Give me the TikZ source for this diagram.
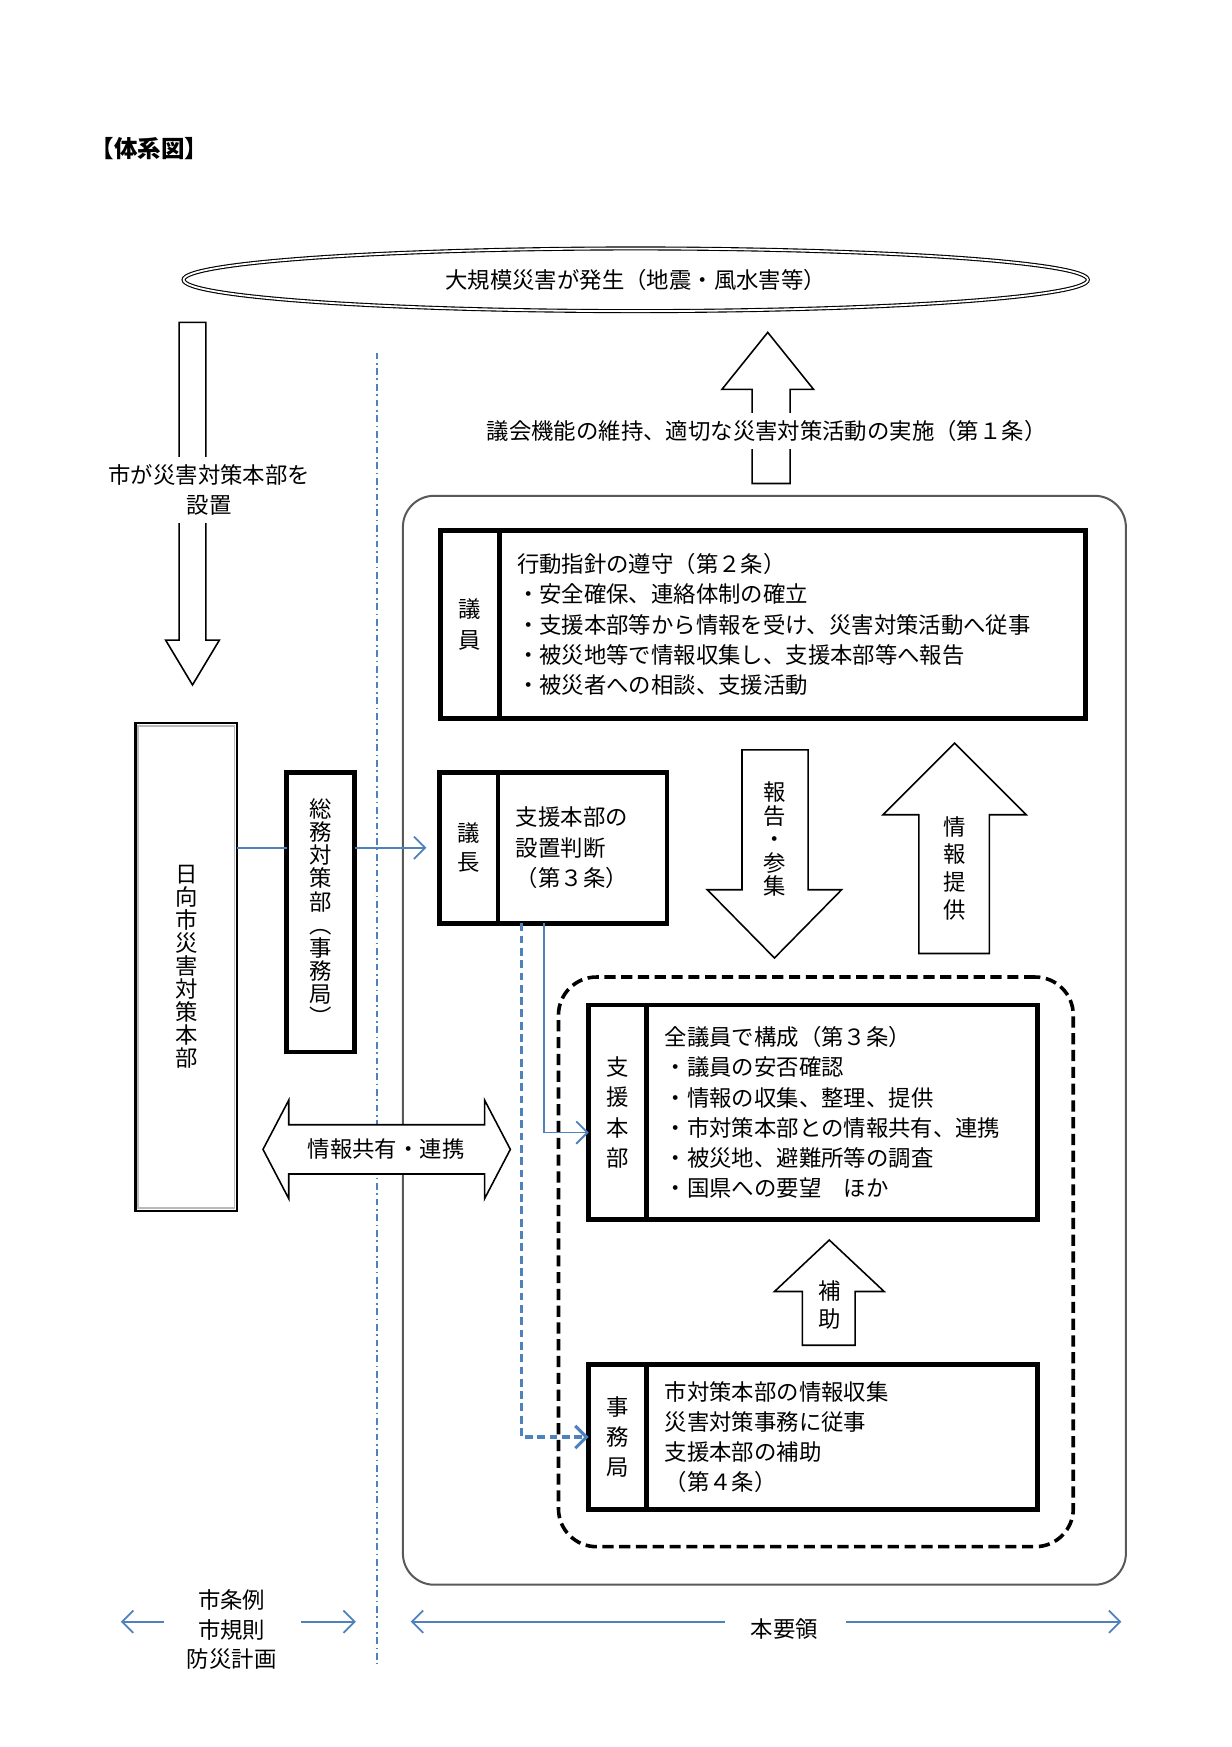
\documentclass[tikz,border=0pt]{standalone}
\usepackage{fontspec}
\setmainfont{Noto Sans CJK JP}
\usepackage{xcolor}
\usetikzlibrary{positioning,calc,arrows.meta,shapes.geometric}
\definecolor{lineblue}{RGB}{79,129,189}

\begin{document}
\begin{tikzpicture}[x=0.5pt, y=-0.5pt, font=\fontsize{10}{13.5}\selectfont,
	boxframe/.style={draw, line width=2.2pt, outer sep=0pt, inner sep=0pt},
	sidetag/.style={boxframe, align=center, minimum width=26pt, minimum height=#1},
	textbox/.style 2 args={boxframe, align=left, inner xsep=8pt, text width=#1, minimum height=#2},
	tate/.style={align=center, font=\fontsize{10}{#1}\selectfont},
	blockarrow/.style={draw, fill=white, line width=0.7pt},
	blueline/.style={draw=lineblue, line width=0.8pt},
	bluearrow/.style={blueline, -{Straight Barb[length=5pt,width=10pt]}}]
	\useasboundingbox (0,0) rectangle (1100,1561);
	% dividing line
	\coordinate (divtop) at (337,315);
	\coordinate (divbot) at (337,1487);
	\draw[lineblue, line width=0.7pt, dash pattern=on 3pt off 1.6pt on 0.8pt off 1.6pt] (divtop) -- (divbot);

	\node[anchor=west, font=\bfseries\fontsize{10.5}{12}\selectfont] (title) at (74,133) {【体系図】};
	\node[ellipse, draw, double, double distance=0.8pt, line width=0.5pt, inner sep=0pt,
		minimum width=404pt, minimum height=28pt] (event) at (568,250) {大規模災害が発生（地震・風水害等）};

	% frames
	\node[draw=black!65, line width=0.9pt, rounded corners=14pt, minimum width=323pt, minimum height=486.5pt] (area) at (683,929.5) {};
	\node[draw, line width=1.6pt, dash pattern=on 5pt off 2.5pt, rounded corners=17pt, minimum width=230pt, minimum height=254.5pt] (support) at (729,1127.5) {};

	% big arrows
	\draw[blockarrow] (160,288) -- (184,288) -- (184,572) -- (196,572) -- (172,612) -- (148,572) -- (160,572) -- cycle;
	\node[fill=white, align=center] (setup) at (187,438) {市が災害対策本部を\\設置};
	\draw[blockarrow] (672,432) -- (672,348) -- (645,348) -- (686,297) -- (727,348) -- (706,348) -- (706,432) -- cycle;
	\node[fill=white] (aim) at (685,385) {議会機能の維持、適切な災害対策活動の実施（第１条）};
	\draw[blockarrow] (663,670) -- (722,670) -- (722,795) -- (752,795) -- (692,856) -- (632,795) -- (663,795) -- cycle;
	\node[tate=10.5] (report) at (692,750) {報\\告\\・\\参\\集};
	\draw[blockarrow] (821,852) -- (821,728) -- (789,728) -- (853,664) -- (917,728) -- (884,728) -- (884,852) -- cycle;
	\node[tate=12.5] (inform) at (853,776) {情\\報\\提\\供};
	\draw[blockarrow] (717,1202) -- (717,1154) -- (692,1154) -- (741,1108) -- (790,1154) -- (764,1154) -- (764,1202) -- cycle;
	\node[tate=12.5] (assist) at (741,1166) {補\\助};

	% boxes
	\node[textbox={246pt}{84pt}] (giin) at (708,558) {行動指針の遵守（第２条）\\・安全確保、連絡体制の確立\\・支援本部等から情報を受け、災害対策活動へ従事\\・被災地等で情報収集し、支援本部等へ報告\\・被災者への相談、支援活動};
	\node[sidetag=84pt, tate=14, left=0pt of giin] (giintag) {議\\員};
	\node[textbox={59.5pt}{67.5pt}] (gicho) at (520.5,757.5) {支援本部の\\設置判断\\（第３条）};
	\node[sidetag=67.5pt, tate=13, left=0pt of gicho] (gichotag) {議\\長};
	\node[textbox={158.5pt}{96pt}] (shien) at (752.5,994) {全議員で構成（第３条）\\・議員の安否確認\\・情報の収集、整理、提供\\・市対策本部との情報共有、連携\\・被災地、避難所等の調査\\・国県への要望　ほか};
	\node[sidetag=96pt, tate=13.5, left=0pt of shien] (shientag) {支\\援\\本\\部};
	\node[textbox={158.5pt}{65pt}] (jimu) at (752.5,1284) {市対策本部の情報収集\\災害対策事務に従事\\支援本部の補助\\（第４条）};
	\node[sidetag=65pt, tate=13.5, left=0pt of jimu] (jimutag) {事\\務\\局};
	\node[boxframe, tate=10.3, minimum width=30.5pt, minimum height=125pt] (somu) at (286.5,815) {総\\務\\対\\策\\部\\︵\\事\\務\\局\\︶};
	\node[draw, line width=1pt, outer sep=0pt, tate=10.25, minimum width=45.5pt, minimum height=218pt] (hq) at (166.5,864) {日\\向\\市\\災\\害\\対\\策\\本\\部};
	\draw[gray!55, line width=0.8pt] ($(hq.south west)+(2.5,-2.5)$) rectangle ($(hq.north east)+(-2.5,2.5)$);

	% connectors
	\draw[blueline] (gichotag.west -| hq.east) -- (gichotag.west -| somu.west);
	\draw[bluearrow, shorten >=6pt] (gichotag.west -| somu.east) -- (gichotag.west);
	\draw[bluearrow] ($(gicho.south west)+(41,0)$) |- ($(shientag.west)+(0,18)$);
	\draw[bluearrow, line width=1.4pt, dash pattern=on 3.5pt off 2pt] ($(gicho.south west)+(21,0)$) |- (jimutag.west);

	\draw[blockarrow] (235,1027) -- (258,983) -- (258,1005) -- (433,1005) -- (433,983) -- (456,1027) -- (433,1071) -- (433,1049) -- (258,1049) -- (258,1071) -- cycle;
	\node (share) at (345,1027) {情報共有・連携};

	% scope of the rules
	\node[align=center, font=\fontsize{10}{13}\selectfont] (rules) at (207,1456) {市条例\\市規則\\防災計画};
	\coordinate (rulesL) at (108,1449);
	\coordinate (rulesR) at (318,1449);
	\draw[bluearrow, shorten <=6.5pt] (rules.west |- rulesL) -- (rulesL);
	\draw[bluearrow, shorten <=7.5pt] (rules.east |- rulesR) -- (rulesR);
	\node (guide) at (701,1456) {本要領};
	\coordinate (guideL) at (367,1449);
	\coordinate (guideR) at (1002,1449);
	\draw[bluearrow, shorten <=8pt] (guide.west |- guideL) -- (guideL);
	\draw[bluearrow, shorten <=9pt] (guide.east |- guideR) -- (guideR);
\end{tikzpicture}
\end{document}
